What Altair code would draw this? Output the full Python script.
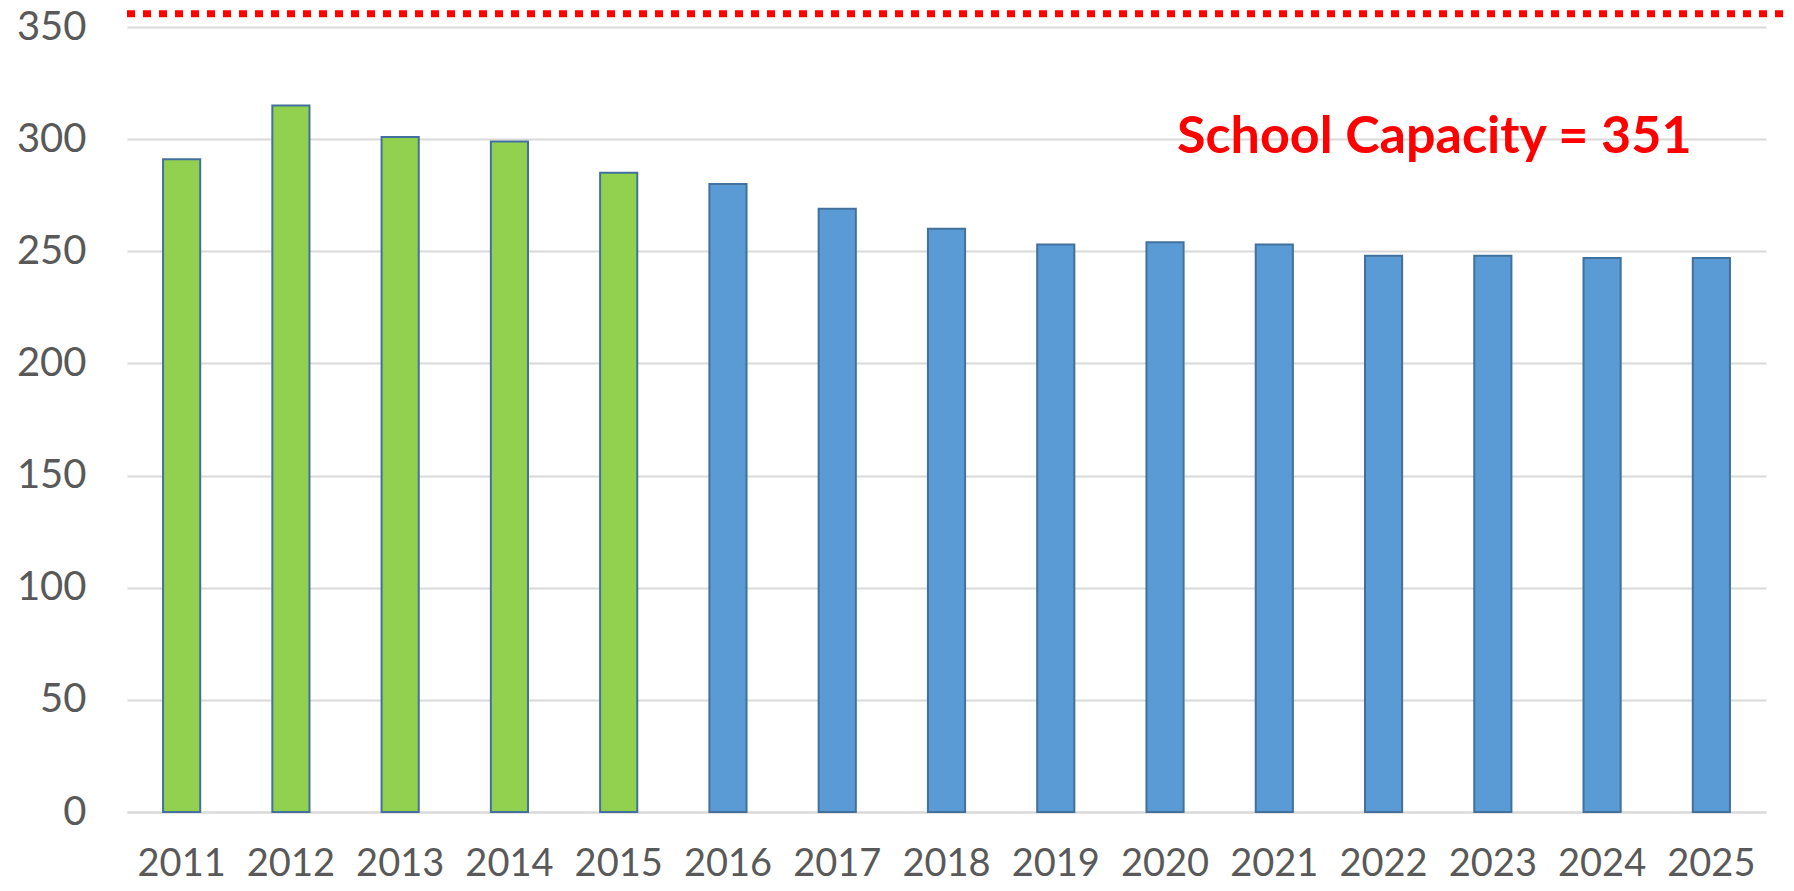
import altair as alt
import pandas as pd

years = [str(y) for y in range(2011, 2026)]
enrollment = [291, 315, 301, 299, 285, 280, 269, 260, 253, 254, 253, 248, 248, 247, 247]
kind = ["Actual"] * 5 + ["Projected"] * 10
capacity = 351
capacity_label = "School Capacity = 351"
y_ticks = [0, 50, 100, 150, 200, 250, 300, 350]

df = pd.DataFrame({"year": years, "enrollment": enrollment, "kind": kind})
cap_df = pd.DataFrame({"capacity": [capacity]})
label_df = pd.DataFrame({"year": ["2021"], "pos": [294], "label": [capacity_label]})

yscale = alt.Scale(domain=[0, 350])
xscale = alt.Scale(paddingInner=0.66, paddingOuter=0.33)
xaxis = alt.Axis(title=None, labelAngle=0, labelFont="Lato", labelFontSize=38,
                 labelColor="#595959", labelPadding=33, ticks=False,
                 domainColor="#D9D9D9", domainWidth=2, grid=False)
yaxis = alt.Axis(title=None, values=y_ticks, labelFont="Lato", labelFontSize=40,
                 labelColor="#595959", labelPadding=41, ticks=False, domain=False,
                 gridColor="#D9D9D9", gridWidth=2)

bars = alt.Chart(df).mark_bar(stroke="#41719C", strokeWidth=2).encode(
    x=alt.X("year:N", sort=years, scale=xscale, axis=xaxis),
    y=alt.Y("enrollment:Q", scale=yscale, axis=yaxis),
    color=alt.Color("kind:N", scale=alt.Scale(domain=["Actual", "Projected"],
                                               range=["#92D050", "#5B9BD5"]), legend=None),
)

rule = alt.Chart(cap_df).mark_rule(color="#FF0000", strokeWidth=7, strokeDash=[8, 8],
                                   yOffset=-11).encode(
    y=alt.Y("capacity:Q", scale=yscale, axis=yaxis),
    x=alt.value(0),
    x2=alt.value(1659),
)

text = alt.Chart(label_df).mark_text(font="Lato", fontSize=52, fontWeight="bold", color="#FF0000",
                                     align="center", baseline="alphabetic", dx=160).encode(
    x=alt.X("year:N", sort=years, scale=xscale, axis=xaxis),
    y=alt.Y("pos:Q", scale=yscale, axis=yaxis),
    text="label:N",
)

chart = alt.layer(bars, rule, text).properties(
    width=1639, height=785,
    padding={"left": 119, "top": 19, "right": 20, "bottom": 71},
    autosize=alt.AutoSizeParams(type="none"),
    background="white",
).configure_view(stroke=None)

chart.save("out.html", embed_options={"renderer": "svg", "actions": False})
